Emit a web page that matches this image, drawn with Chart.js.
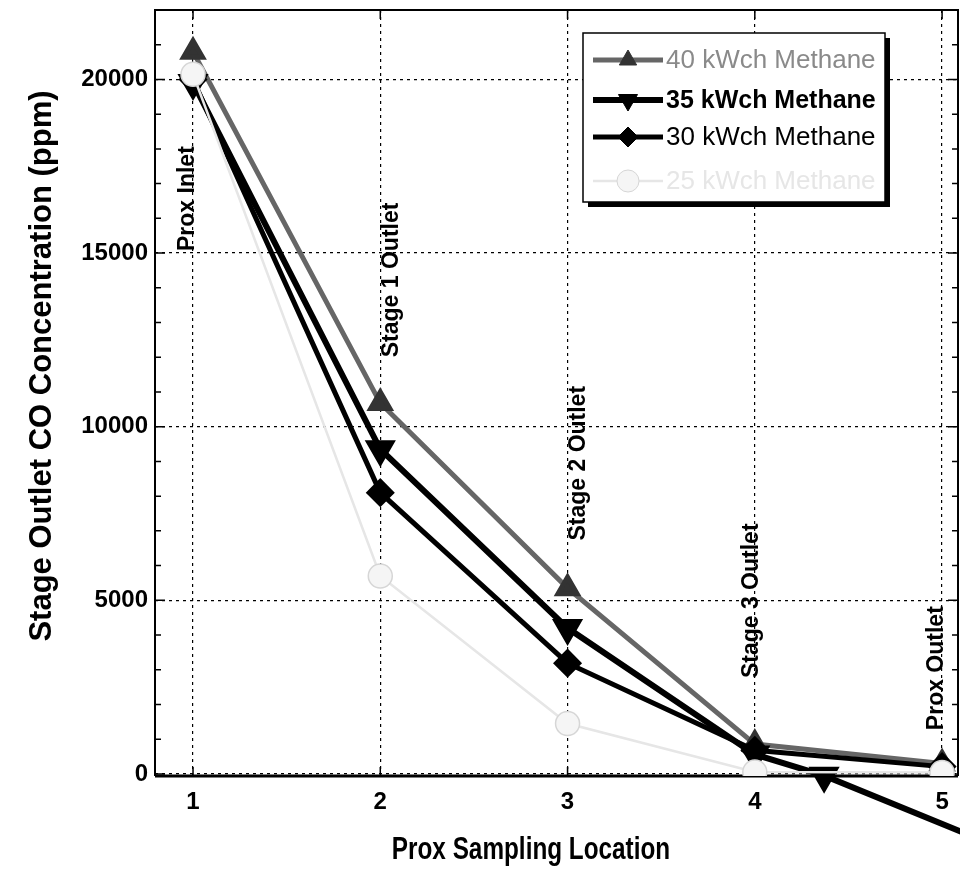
<!DOCTYPE html>
<html>
<script src="https://cdn.jsdelivr.net/npm/chart.js@4.4.0/dist/chart.umd.min.js"></script>
<body style="margin:0;background-color:#ffffff;">
<canvas id="coChart" width="960" height="882"></canvas>

<script>
// values
var xLocations = [1, 2, 3, 4, 5];
var methane40 = [20800, 10680, 5350, 860, 300];
var methane35X = [1, 2, 3, 4, 4.37, 5.3];
var methane35 = [19900, 9350, 4200, 560, -50, -2100];
var methane30 = [20000, 8100, 3190, 680, 210];
var methane25 = [20150, 5700, 1450, 55, 40];

var seriesNames = ['40 kWch Methane', '35 kWch Methane', '30 kWch Methane', '25 kWch Methane'];
var xTickValues = [1, 2, 3, 4, 5];
var yTickValues = [0, 5000, 10000, 15000, 20000];

var stageLabels = ['Prox Inlet', 'Stage 1 Outlet', 'Stage 2 Outlet', 'Stage 3 Outlet', 'Prox Outlet'];
var stageLabelX = [0.973, 2.06, 3.06, 3.985, 4.97];
var stageLabelY = [15060, 12000, 6720, 2760, 1260];

var FONT = "'Liberation Sans', Arial, sans-serif";

function pts(xs, ys) {
  return ys.map((y, i) => ({x: xs[i], y: y}));
}

var frameAndNotes = {
  id: 'frameAndNotes',
  beforeDatasetsDraw(chart) {
    var ctx = chart.ctx, a = chart.chartArea;
    var xs = chart.scales.x, ys = chart.scales.y;
    ctx.save();
    ctx.strokeStyle = '#000';
    // inward tick marks on left and right
    ctx.lineWidth = 1.5;
    for (var v = 0; v <= 22000; v += 1000) {
      var py = ys.getPixelForValue(v);
      var len = (v % 5000 === 0) ? 10 : 6;
      ctx.beginPath();
      ctx.moveTo(a.left, py); ctx.lineTo(a.left + len, py);
      ctx.moveTo(a.right, py); ctx.lineTo(a.right - len, py);
      ctx.stroke();
    }
    xTickValues.forEach(function (t) {
      var px = xs.getPixelForValue(t);
      ctx.beginPath();
      ctx.moveTo(px, a.bottom); ctx.lineTo(px, a.bottom - 9);
      ctx.moveTo(px, a.top); ctx.lineTo(px, a.top + 9);
      ctx.stroke();
    });
    ctx.lineWidth = 2;
    ctx.beginPath();
    ctx.moveTo(a.left, a.bottom); ctx.lineTo(a.left, a.top);
    ctx.lineTo(a.right, a.top); ctx.lineTo(a.right, a.bottom);
    ctx.stroke();
    ctx.lineWidth = 3;
    ctx.beginPath();
    ctx.moveTo(a.left, a.bottom); ctx.lineTo(a.right, a.bottom);
    ctx.stroke();
    ctx.restore();
  },
  afterDraw(chart) {
    var ctx = chart.ctx;
    var xs = chart.scales.x, ys = chart.scales.y;
    ctx.save();
    // vertical location notes
    ctx.fillStyle = '#000';
    ctx.font = 'bold 23px ' + FONT;
    ctx.textAlign = 'left';
    ctx.textBaseline = 'middle';
    stageLabels.forEach(function (s, i) {
      ctx.save();
      ctx.translate(xs.getPixelForValue(stageLabelX[i]), ys.getPixelForValue(stageLabelY[i]));
      ctx.rotate(-Math.PI / 2);
      ctx.fillText(s, 0, 0);
      ctx.restore();
    });

    // axis titles
    ctx.textAlign = 'center';
    ctx.save();
    ctx.font = 'bold 32px ' + FONT;
    ctx.translate(531, 850);
    ctx.scale(0.76, 1);
    ctx.fillText('Prox Sampling Location', 0, 0);
    ctx.restore();
    ctx.save();
    ctx.font = 'bold 31px ' + FONT;
    ctx.translate(42, 366);
    ctx.rotate(-Math.PI / 2);
    ctx.fillText('Stage Outlet CO Concentration (ppm)', 0, 0);
    ctx.restore();

    // legend box
    var bx = 583, by = 33, bw = 302, bh = 169;
    ctx.fillStyle = '#000';
    ctx.fillRect(bx + 5, by + 5, bw, bh);
    ctx.fillStyle = '#fff';
    ctx.fillRect(bx, by, bw, bh);
    ctx.strokeStyle = '#000';
    ctx.lineWidth = 1.5;
    ctx.strokeRect(bx, by, bw, bh);
    var rows = [60, 100, 137, 181];
    chart.data.datasets.forEach(function (ds, i) {
      var ry = rows[i];
      ctx.strokeStyle = ds.borderColor;
      ctx.lineWidth = ds.borderWidth;
      ctx.beginPath();
      ctx.moveTo(bx + 10, ry); ctx.lineTo(bx + 80, ry);
      ctx.stroke();
      ctx.fillStyle = ds.pointBackgroundColor;
      ctx.strokeStyle = ds.pointBorderColor;
      ctx.lineWidth = 1;
      Chart.helpers.drawPoint(ctx, {
        pointStyle: ds.pointStyle, radius: ds.pointRadius - 1,
        rotation: ds.pointRotation || 0, borderWidth: 1
      }, bx + 45, ry);
      ctx.fillStyle = ds.legendColor;
      ctx.font = ds.legendFont + ' ' + FONT;
      ctx.textAlign = 'left';
      ctx.textBaseline = 'middle';
      ctx.fillText(seriesNames[i], bx + 83, ry + 1);
    });
    ctx.restore();
  }
};

new Chart('coChart', {
  type: 'scatter',
  data: {
    datasets: [{
      label: seriesNames[0],
      data: pts(xLocations, methane40),
      showLine: true,
      borderColor: '#666666',
      borderWidth: 5,
      pointStyle: 'triangle',
      pointRadius: 11,
      pointBackgroundColor: '#333333',
      pointBorderColor: '#333333',
      legendColor: '#8a8a8a',
      legendFont: '26px',
      order: 3
    }, {
      label: seriesNames[1],
      data: pts(methane35X, methane35),
      showLine: true,
      clip: false,
      borderColor: '#000',
      borderWidth: 6,
      pointStyle: 'triangle',
      pointRotation: 180,
      pointRadius: 12,
      pointBackgroundColor: '#000',
      pointBorderColor: '#000',
      legendColor: '#000',
      legendFont: 'bold 25px',
      order: 2
    }, {
      label: seriesNames[2],
      data: pts(xLocations, methane30),
      showLine: true,
      borderColor: '#000',
      borderWidth: 5,
      pointStyle: 'rectRot',
      pointRadius: 11,
      pointBackgroundColor: '#000',
      pointBorderColor: '#000',
      legendColor: '#000',
      legendFont: '26px',
      order: 1
    }, {
      label: seriesNames[3],
      data: pts(xLocations, methane25),
      showLine: true,
      borderColor: '#e6e6e6',
      borderWidth: 2.5,
      pointStyle: 'circle',
      pointRadius: 12,
      pointBorderWidth: 1.5,
      pointBackgroundColor: '#f5f5f5',
      pointBorderColor: '#d6d6d6',
      legendColor: '#e6e6e6',
      legendFont: '26px',
      order: 0
    }]
  },
  options: {
    responsive: false,
    animation: false,
    layout: {autoPadding: false, padding: {left: 0, right: 2, top: 10, bottom: 0}},
    plugins: {legend: {display: false}, tooltip: {enabled: false}},
    elements: {line: {tension: 0}},
    scales: {
      x: {
        type: 'linear',
        min: 0.797,
        max: 5.085,
        afterBuildTicks: s => { s.ticks = xTickValues.map(v => ({value: v})); },
        afterFit: s => { s.height = 106; s.paddingLeft = 0; s.paddingRight = 0; },
        grid: {color: '#000', lineWidth: 1.2, drawTicks: false},
        border: {display: false, dash: [3, 4]},
        ticks: {
          color: '#000', padding: 12,
          font: {family: FONT, size: 24, weight: 'bold'},
          callback: v => String(v)
        }
      },
      y: {
        type: 'linear',
        min: -60,
        max: 22000,
        afterBuildTicks: s => { s.ticks = yTickValues.map(v => ({value: v})); },
        afterFit: s => { s.width = 155; s.paddingTop = 0; s.paddingBottom = 0; },
        grid: {color: '#000', lineWidth: 1.2, drawTicks: false},
        border: {display: false, dash: [3, 4]},
        ticks: {
          color: '#000', padding: 7,
          font: {family: FONT, size: 24, weight: 'bold'},
          callback: v => String(v)
        }
      }
    }
  },
  plugins: [frameAndNotes]
});
</script>
</body>
</html>
